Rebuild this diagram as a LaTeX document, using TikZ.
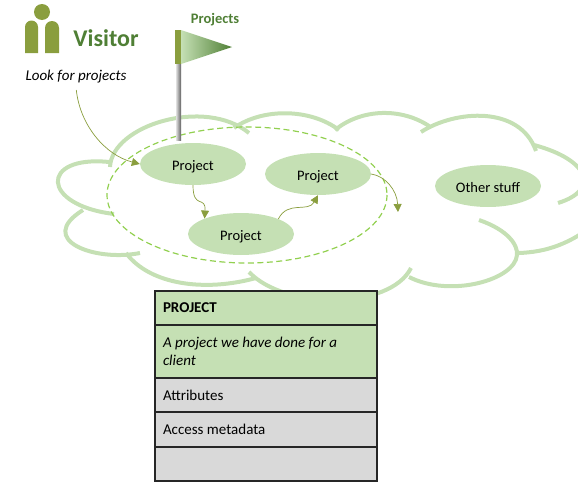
\documentclass[tikz,border=0pt]{standalone}
\usepackage{fontspec}
\setmainfont{Carlito}
\usepackage{xcolor}
\usetikzlibrary{arrows.meta,shapes.geometric,shadings}
\definecolor{leaf}{HTML}{C5E0B4}
\definecolor{moss}{HTML}{8A9E3E}
\definecolor{fir}{HTML}{4F7F35}
\definecolor{lime}{HTML}{92D050}
\definecolor{pale}{HTML}{D9D9D9}
\tikzset{
  blob/.style={ellipse,fill=leaf,minimum width=106pt,minimum height=42pt,inner sep=0pt,text height=12pt,text depth=0pt,font=\fontsize{14.5}{16}\selectfont},
  cloudline/.style={draw=leaf,line width=4pt},
  link/.style={draw=moss,line width=0.7pt,-{Triangle[length=8pt,width=8pt,fill=moss]}},
  row/.style={rectangle,draw=black!85,line width=1.5pt,minimum width=222pt,text width=206pt,inner sep=0pt,align=flush left,font=\fontsize{15}{18}\selectfont},
}

\begin{document}
\begin{tikzpicture}[x=1pt,y=-1pt]
  \useasboundingbox (0,0) rectangle (578,482);

  % cloud outline, one lobe at a time
  \begin{scope}
    \clip (0,0) rectangle (578,482);
    \draw[cloudline] (110,167) .. controls (112,125) and (205,97) .. (249,133);
    \draw[cloudline] (234,128) .. controls (262,108) and (310,108) .. (339,130);
    \draw[cloudline] (335,130) .. controls (362,108) and (402,108) .. (429,126);
    \draw[cloudline] (421,132) .. controls (455,110) and (520,105) .. (536,151);
    \draw[cloudline] (534,145) .. controls (590,160) and (600,190) .. (558,203);
    \draw[cloudline] (519,253) .. controls (545,252) and (570,245) .. (600,220);
    \draw[cloudline] (479,220) .. controls (508,230) and (518,245) .. (517,255) .. controls (515,280) and (450,298) .. (409,277);
    \draw[cloudline] (411,268) .. controls (390,310) and (285,310) .. (249,272);
    \draw[cloudline] (256,278) .. controls (205,292) and (150,285) .. (126,253);
    \draw[cloudline] (140,253) .. controls (95,262) and (35,240) .. (83,210);
    \draw[cloudline] (114,214) .. controls (40,205) and (40,155) .. (109,162);
  \end{scope}

  % scope of the projects
  \draw[draw=lime,line width=1.2pt,dashed,dash pattern=on 6pt off 3.5pt] (247,195) ellipse [x radius=140,y radius=68];

  % flag
  \shade[left color=gray!25,right color=gray!75!black] (176,64) rectangle (181,140);
  \shade[left color=leaf,right color=fir] (181,30) -- (232,47) -- (181,64) -- cycle;
  \fill[moss] (175,30) rectangle (181,64);
  \node[text=fir,font=\bfseries\fontsize{14.5}{16}\selectfont] (flagname) at (215,20) {Projects};

  % visitor figure
  \fill[moss] (42,12) circle (8);
  \fill[moss] (25,53) -- (25,27) arc[start angle=180,end angle=360,radius=6.5] -- (38,53) -- cycle;
  \fill[moss] (45,53) -- (45,28) arc[start angle=180,end angle=360,radius=7] -- (59,53) -- cycle;
  \node[text=fir,font=\bfseries\fontsize{24}{26}\selectfont] (visitor) at (106,38) {Visitor};
  \node[font=\itshape\fontsize{15}{17}\selectfont] (look) at (76,77) {Look for projects};

  % blobs
  \node[blob] (prjA) at (193,164) {Project};
  \node[blob] (prjB) at (318,174) {Project};
  \node[blob] (prjC) at (241,234) {Project};
  \node[blob] (other) at (488,186) {Other stuff};
  \coordinate (away) at (398,212);

  % links
  \draw[link,shorten <=3pt] (look.south) .. controls (80,125) and (105,155) .. (prjA.west);
  \draw[link] (prjA.south) .. controls (193,210) and (206,195) .. (prjC.157);
  \draw[link] (prjC.22) .. controls (288,200) and (308,213) .. (prjB.south);
  \draw[link] (prjB.east) .. controls (385,176) and (397,190) .. (away);

  % table
  \node[row,fill=leaf,minimum height=34pt] (title) at (266,308) {\textbf{PROJECT}};
  \node[row,fill=leaf,minimum height=53pt] (descr) at (266,351.5) {\textit{A project we have done for a client}};
  \node[row,fill=pale,minimum height=34pt] (attrs) at (266,395) {Attributes};
  \node[row,fill=pale,minimum height=34pt] (meta) at (266,429.5) {Access metadata};
  \node[row,fill=pale,minimum height=34pt] (blank) at (266,464) {};
\end{tikzpicture}
\end{document}
